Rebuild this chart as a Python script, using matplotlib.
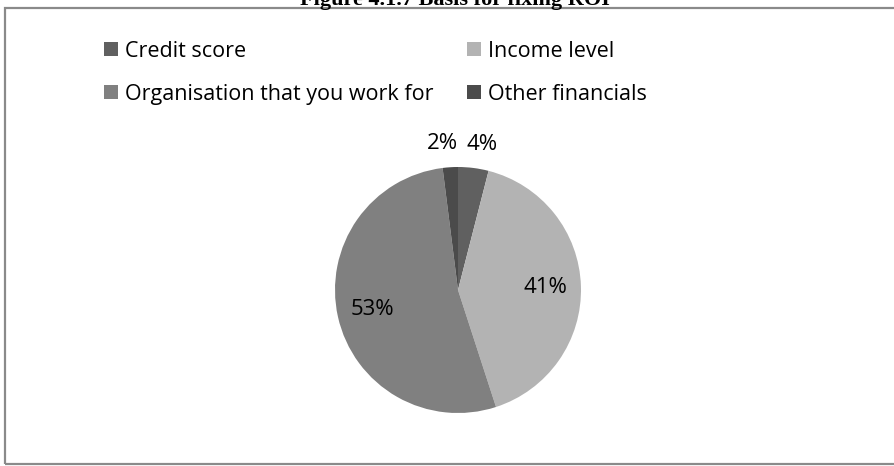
import matplotlib
matplotlib.use("Agg")
import matplotlib.pyplot as plt
from matplotlib.patches import Rectangle
import numpy as np

# Basis for fixing ROI - share of respondents
categories = ["Credit score", "Income level", "Organisation that you work for", "Other financials"]
shares = [4, 41, 53, 2]
colors = ["#606060", "#b3b3b3", "#808080", "#4b4b4b"]
title = "Figure 4.1.7 Basis for fixing ROI"

W, H = 894, 466
fig = plt.figure(figsize=(W / 100, H / 100), dpi=100)
fig.patch.set_facecolor("white")


def fx(px):
    return px / W


def fy(py):
    return 1 - py / H


sans = ["Open Sans", "DejaVu Sans"]

# chart frame, runs off the right edge
fig.patches.append(Rectangle((fx(5), fy(464)), fx(920) - fx(5), fy(7.5) - fy(464),
                             transform=fig.transFigure, fill=False,
                             edgecolor="#8a8a8a", linewidth=1.6, clip_on=False))

# caption above the frame, mostly cut off at the top
fig.text(fx(455), fy(4.5), title, ha="center", va="baseline",
         fontsize=16, fontweight="bold", family=["Liberation Serif", "DejaVu Serif"])

# pie in its own square axes
cx, cy, r = 458, 290, 123
ax = fig.add_axes([fx(cx - r), fy(cy + r), fx(2 * r), (2 * r) / H])
wedges, _ = ax.pie(shares, colors=colors, startangle=90, counterclock=False,
                   radius=1, wedgeprops=dict(linewidth=0))
ax.set_xlim(-1, 1)
ax.set_ylim(-1, 1)
ax.set_aspect("auto")
ax.axis("off")

total = sum(shares)
for w, val in zip(wedges, shares):
    mid = np.deg2rad((w.theta1 + w.theta2) / 2)
    if val / total < 0.05:
        dist = 1.19
        nudge = 0.05 * np.sign(np.cos(mid))
    else:
        dist = 0.71
        nudge = 0
    x = dist * np.cos(mid) + nudge
    y = dist * np.sin(mid)
    ax.text(x, y, f"{val}%", ha="center", va="center", fontsize=16,
            family=sans, color="black", clip_on=False)

# legend, two columns
col_x = [104, 467]
row_y = [49, 92]
sq = 14
for i, (name, c) in enumerate(zip(categories, colors)):
    px = col_x[i % 2]
    py = row_y[i // 2]
    fig.patches.append(Rectangle((fx(px), fy(py + sq / 2)), fx(sq), sq / H,
                                 transform=fig.transFigure, facecolor=c,
                                 edgecolor="none"))
    fig.text(fx(px + sq + 7), fy(py), name, ha="left", va="center_baseline",
             fontsize=15.5, family=sans, color="black")

fig.savefig("out.png", dpi=100)
